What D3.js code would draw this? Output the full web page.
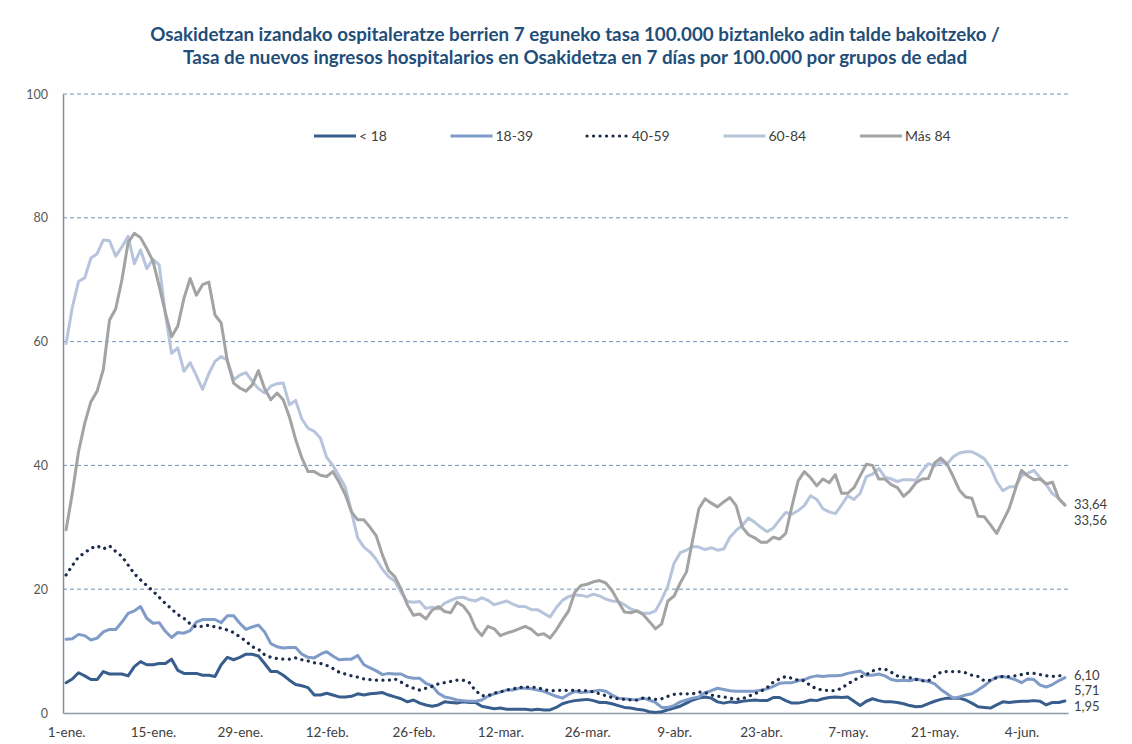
<!DOCTYPE html>
<html><head><meta charset="utf-8">
<script src="https://cdn.jsdelivr.net/npm/d3@7"></script>
<style>
body{margin:0;background:#fff;}
svg{display:block;}
text{font-family:Lato,"Liberation Sans",sans-serif;}
</style>
</head><body>
<svg id="chart" width="1132" height="744"></svg>
<script>
const titleLines = [
  "Osakidetzan izandako ospitaleratze berrien 7 eguneko tasa 100.000 biztanleko adin talde bakoitzeko /",
  "Tasa de nuevos ingresos hospitalarios en Osakidetza en 7 días por 100.000 por grupos de edad"
];
const seriesNames = ["< 18", "18-39", "40-59", "60-84", "Más 84"];
const startDate = "2021-01-01";
const dayCount = 162;
const tickLabels = ["1-ene.", "15-ene.", "29-ene.", "12-feb.", "26-feb.", "12-mar.", "26-mar.", "9-abr.", "23-abr.", "7-may.", "21-may.", "4-jun."];
const yTicks = [0, 20, 40, 60, 80, 100];

const under18 = [
4.9,5.5,6.5,6.0,5.4,5.4,6.7,6.3,6.3,6.3,
6.0,7.5,8.3,7.8,7.8,8.0,8.0,8.7,6.9,6.4,
6.4,6.4,6.1,6.1,5.9,7.8,9.0,8.6,9.0,9.5,
9.5,9.2,8.0,6.7,6.7,6.1,5.3,4.6,4.4,4.1,
2.9,2.9,3.2,2.9,2.6,2.6,2.7,3.1,2.9,3.1,
3.2,3.3,2.9,2.6,2.3,1.8,2.1,1.6,1.3,1.1,
1.3,1.8,1.7,1.6,1.8,1.7,1.7,1.1,0.9,0.7,
0.8,0.6,0.6,0.6,0.6,0.5,0.6,0.5,0.5,0.9,
1.5,1.8,2.0,2.1,2.2,2.0,1.7,1.7,1.5,1.2,
0.9,0.8,0.6,0.5,0.2,0.1,0.2,0.5,0.8,1.1,
1.6,2.1,2.4,2.6,2.4,1.8,1.6,1.8,1.7,1.9,
2.0,2.1,2.0,2.0,2.5,2.5,2.0,1.6,1.6,1.8,
2.1,2.0,2.3,2.5,2.6,2.5,2.6,1.9,1.2,1.9,
2.3,2.0,1.8,1.8,1.7,1.5,1.2,1.0,1.1,1.5,
1.9,2.2,2.4,2.4,2.4,2.1,1.6,1.0,0.9,0.8,
1.3,1.8,1.7,1.8,1.9,1.9,2.0,1.9,1.3,1.7,
1.7,1.95];
const age18to39 = [
11.9,12.0,12.7,12.5,11.8,12.1,13.1,13.5,13.5,14.7,
16.1,16.5,17.2,15.3,14.5,14.6,13.2,12.2,13.0,12.9,
13.3,14.7,15.1,15.1,15.1,14.6,15.7,15.7,14.5,13.5,
13.9,14.2,13.1,11.2,10.7,10.5,10.6,10.6,9.5,9.0,
8.9,9.5,9.9,9.2,8.6,8.7,8.7,9.3,7.8,7.3,
6.8,6.2,6.4,6.3,6.3,5.8,5.6,5.6,4.8,4.4,
3.2,2.6,2.4,2.1,2.0,1.9,1.9,2.1,2.7,3.1,
3.4,3.7,3.7,4.0,4.0,3.9,3.7,3.5,3.1,2.7,
2.4,3.0,3.5,3.3,3.4,3.5,3.7,3.5,2.9,2.4,
2.3,2.2,2.1,2.4,2.1,1.7,0.9,0.9,1.2,1.8,
2.1,2.4,2.6,3.3,3.6,4.0,3.8,3.6,3.5,3.5,
3.5,3.5,3.7,3.9,4.3,4.8,4.9,4.9,5.2,5.4,
5.8,6.0,5.9,6.0,6.0,6.1,6.4,6.6,6.8,6.1,
6.1,6.3,6.0,5.4,5.2,5.3,5.2,5.5,5.3,5.1,
4.7,3.8,3.1,2.4,2.6,2.9,3.1,3.7,4.4,5.2,
5.8,5.9,5.7,5.4,4.9,5.5,5.4,4.5,4.2,4.6,
5.2,5.71];
const age40to59 = [
22.3,23.8,25.2,25.9,26.6,27.0,26.5,27.0,26.1,25.3,
23.9,22.5,21.5,20.6,19.7,18.7,17.7,16.8,15.9,15.3,
14.4,13.9,14.0,14.2,13.9,13.7,13.4,13.0,12.3,11.6,
10.7,10.3,9.4,9.0,8.8,8.7,8.7,8.9,8.6,8.4,
8.1,8.0,7.7,7.2,6.6,6.3,6.0,5.8,5.5,5.4,
5.3,5.3,5.3,5.5,5.0,4.4,4.0,3.7,4.0,4.3,
4.7,4.9,5.1,5.3,5.3,4.9,3.6,2.8,2.8,3.2,
3.4,3.7,3.9,4.1,4.2,4.2,4.1,3.8,3.6,3.6,
3.7,3.6,3.7,3.6,3.6,3.4,3.1,2.8,2.5,2.3,
2.2,2.1,2.1,2.4,2.4,2.2,2.3,2.7,3.0,3.1,
3.1,3.1,3.4,3.3,2.9,2.7,2.6,2.4,2.2,2.3,
2.7,3.1,3.5,4.1,5.0,5.5,5.9,5.6,5.3,5.2,
4.4,3.9,3.7,3.6,3.6,4.0,4.7,5.3,5.8,6.2,
6.8,7.1,7.1,6.6,6.0,5.8,5.7,5.4,5.2,5.2,
5.9,6.6,6.7,6.7,6.7,6.5,6.1,5.9,5.2,5.3,
5.7,5.9,5.9,6.0,6.2,6.4,6.4,6.2,6.0,5.9,
6.0,6.10];
const age60to84 = [
59.7,65.5,69.7,70.3,73.5,74.2,76.4,76.3,73.8,75.3,
77.0,72.6,74.8,71.8,73.3,72.4,64.5,58.1,59.0,55.2,
56.6,54.5,52.3,54.8,56.8,57.6,57.0,53.8,54.6,55.0,
53.6,52.4,51.7,52.8,53.2,53.3,49.8,50.5,47.5,46.0,
45.5,44.4,41.3,40.0,38.3,36.5,32.5,28.3,26.8,26.0,
24.8,23.2,22.0,21.3,19.5,18.0,17.9,18.0,16.9,17.1,
16.8,17.7,18.2,18.6,18.7,18.3,18.1,18.6,18.2,17.5,
17.8,18.1,17.6,17.2,17.2,16.7,16.7,16.1,15.5,17.0,
18.2,18.8,19.1,19.0,18.8,19.2,18.9,18.4,18.1,18.0,
17.5,16.8,16.5,16.1,16.1,16.5,18.3,20.5,24.2,25.9,
26.3,26.9,26.8,26.4,26.7,26.3,26.5,28.4,29.5,30.3,
31.5,30.8,30.0,29.3,29.9,31.2,32.4,32.1,32.7,33.5,
35.1,34.5,33.0,32.5,32.2,33.6,35.1,34.5,35.5,38.2,
38.6,39.5,38.1,37.8,37.4,37.7,37.7,37.6,39.1,40.3,
39.9,40.5,40.2,41.4,42.0,42.2,42.2,41.7,41.1,39.7,
37.4,35.9,36.5,36.6,38.3,38.7,39.2,38.0,36.9,35.4,
34.7,33.64];
const ageOver84 = [
29.6,35.5,42.2,46.8,50.3,52.0,55.5,63.5,65.3,70.0,
76.0,77.5,76.8,75.0,73.0,69.0,64.7,60.8,62.5,67.0,
70.2,67.5,69.2,69.6,64.3,63.0,56.8,53.3,52.5,52.0,
53.0,55.3,52.4,50.6,51.7,50.6,47.8,44.2,41.2,39.0,
39.0,38.4,38.2,39.0,37.3,35.3,32.5,31.2,31.2,30.0,
28.6,25.5,23.0,22.0,20.0,17.5,15.8,16.0,15.2,16.6,
17.2,16.4,16.2,17.9,17.3,16.0,13.7,12.5,14.0,13.6,
12.5,12.9,13.2,13.6,14.0,13.5,12.6,12.8,12.1,13.4,
15.0,16.5,19.5,20.6,20.8,21.2,21.4,21.0,19.8,18.0,
16.3,16.2,16.5,15.9,14.8,13.6,14.4,18.1,18.9,21.0,
22.8,28.0,33.0,34.6,33.9,33.3,34.1,34.8,33.5,30.0,
28.8,28.3,27.6,27.6,28.4,28.1,29.0,33.4,37.5,39.0,
38.0,36.7,37.8,37.2,38.5,35.5,35.5,36.4,38.3,40.2,
40.0,37.8,37.8,36.9,36.4,35.0,35.9,37.2,37.8,37.9,
40.4,41.2,40.2,38.2,36.0,34.9,34.7,31.8,31.7,30.4,
29.0,31.0,33.0,36.1,39.2,38.3,37.7,37.8,37.0,37.3,
34.6,33.56];

const seriesValues = [under18, age18to39, age40to59, age60to84, ageOver84];
const seriesColors = ["#385E8D", "#7F9BC7", "#1C2C4C", "#B6C4DC", "#A3A3A3"];
const seriesDash = [null, null, "0.1 6.4", null, null];

const svg = d3.select("#chart");
const plot = {left: 63, right: 1068, top: 94, bottom: 713};

const dates = d3.timeDay.range(new Date(startDate + "T00:00:00"), d3.timeDay.offset(new Date(startDate + "T00:00:00"), dayCount));
const x = d3.scalePoint().domain(d3.range(dates.length)).range([plot.left, plot.right]).padding(0.5);
const y = d3.scaleLinear().domain([0, 100]).range([plot.bottom, plot.top]);

// Title
const title = svg.append("g").attr("fill", "#1F4E79").attr("font-weight", "bold").attr("text-anchor", "middle");
const tl = title.selectAll("text").data(titleLines).join("text")
  .attr("x", 575).attr("y", (d, i) => 41 + i * 23).attr("font-size", 18).text(d => d);
const w0 = tl.nodes()[0].getComputedTextLength();
tl.attr("font-size", 18 * 850 / w0);

// Grid
const grid = svg.append("g");
grid.selectAll("line").data(yTicks.filter(t => t > 0)).join("line")
  .attr("x1", plot.left).attr("x2", plot.right)
  .attr("y1", d => y(d)).attr("y2", d => y(d))
  .attr("stroke", "#6E92B4").attr("stroke-width", 1).attr("stroke-dasharray", "4,3");

// Y axis
const yAxis = d3.axisLeft(y).tickValues(yTicks).tickSize(0).tickPadding(15).tickFormat(d3.format("d"));
const gy = svg.append("g").attr("transform", `translate(${plot.left},0)`).call(yAxis);
gy.select(".domain").attr("stroke", "#7F8FA6").attr("stroke-width", 1.5);
gy.selectAll("text").attr("font-size", 12.5).attr("fill", "#595959").attr("font-family", "Lato,'Liberation Sans',sans-serif");

// X axis
const tickIdx = tickLabels.map((d, i) => i * 14);
const xAxis = d3.axisBottom(x).tickValues(tickIdx).tickSize(0).tickPadding(14)
  .tickFormat(d => tickLabels[tickIdx.indexOf(d)]);
const gx = svg.append("g").attr("transform", `translate(0,${plot.bottom})`).call(xAxis);
gx.select(".domain").attr("stroke", "#8C99A8").attr("stroke-width", 1.5);
gx.selectAll("text").attr("font-size", 13.5).attr("fill", "#404040").attr("font-family", "Lato,'Liberation Sans',sans-serif");

// Lines
const line = d3.line().x((d, i) => x(i)).y(d => y(d));
const lines = svg.append("g").attr("fill", "none");
seriesValues.forEach((vals, k) => {
  const p = lines.append("path").datum(vals).attr("d", line)
    .attr("stroke", seriesColors[k])
    .attr("stroke-width", seriesDash[k] ? 3.2 : 3)
    .attr("stroke-linejoin", "round")
    .attr("stroke-linecap", "round");
  if (seriesDash[k]) p.attr("stroke-dasharray", seriesDash[k]);
});

// End labels with simple de-overlap
const endVals = seriesValues.map(v => v[v.length - 1]);
const endFmt = v => d3.format(".2f")(v).replace(".", ",");
const labs = endVals.map((v, k) => ({k, v, y: y(v)})).sort((a, b) => a.y - b.y || b.v - a.v);
const gap = 15.5;
for (let i = 1; i < labs.length; i++) {
  if (labs[i].y - labs[i - 1].y < gap) labs[i].y = labs[i - 1].y + gap;
}
svg.append("g").selectAll("text").data(labs).join("text")
  .attr("x", plot.right + 6).attr("y", d => d.y).attr("dy", "0.35em")
  .attr("font-size", 13).attr("fill", "#404040").text(d => endFmt(d.v));

// Legend
const lx = d3.scalePoint().domain(seriesNames).range([314, 860]);
const lg = svg.append("g").attr("transform", "translate(0,136)");
const items = lg.selectAll("g").data(seriesNames).join("g").attr("transform", d => `translate(${lx(d)},0)`);
items.append("line").attr("x1", 0).attr("x2", (d, i) => seriesDash[i] ? 40 : 42).attr("y1", 0).attr("y2", 0)
  .attr("stroke", (d, i) => seriesColors[i]).attr("stroke-width", 3.2)
  .attr("stroke-linecap", (d, i) => seriesDash[i] ? "round" : "butt")
  .attr("stroke-dasharray", (d, i) => seriesDash[i]);
items.append("text").attr("x", 45).attr("y", 0).attr("dy", "0.35em")
  .attr("font-size", 14).attr("fill", "#404040").text(d => d);
</script>
</body></html>
